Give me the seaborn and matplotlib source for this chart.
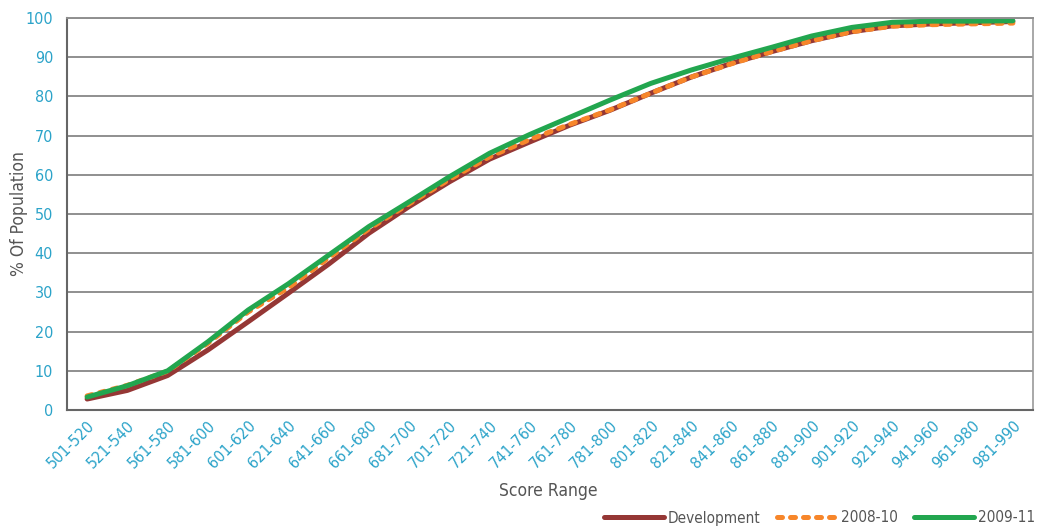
import matplotlib
matplotlib.use("Agg")
import matplotlib.pyplot as plt
import matplotlib.transforms as mtransforms
from matplotlib.lines import Line2D
import numpy as np
import pandas as pd
import seaborn as sns

categories = ["501-520", "521-540", "561-580", "581-600", "601-620", "621-640",
              "641-660", "661-680", "681-700", "701-720", "721-740", "741-760",
              "761-780", "781-800", "801-820", "821-840", "841-860", "861-880",
              "881-900", "901-920", "921-940", "941-960", "961-980", "981-990"]

development = [2.8, 5.0, 8.8, 15.3, 22.5, 29.8, 37.2, 45.1, 51.9, 58.2, 64.0, 68.4,
               72.7, 76.5, 80.8, 84.9, 88.4, 91.4, 94.2, 96.5, 98.0, 98.5, 98.8, 99.1]
s2008_10 = [3.6, 6.3, 9.9, 17.0, 25.0, 31.2, 38.8, 46.2, 52.6, 58.8, 64.6, 69.0,
            72.9, 76.6, 80.8, 84.9, 88.3, 91.4, 94.2, 96.5, 97.9, 98.3, 98.5, 98.7]
s2009_11 = [3.3, 6.2, 10.0, 17.4, 25.5, 32.2, 39.5, 46.8, 53.1, 59.5, 65.5, 70.3,
            74.7, 79.1, 83.3, 86.7, 89.7, 92.5, 95.4, 97.6, 98.9, 99.2, 99.2, 99.3]

series_names = ["Development", "2008-10", "2009-11"]
y_ticks = list(range(0, 101, 10))

colors = {"Development": "#953735", "2008-10": "#F7862A", "2009-11": "#22A64F"}
tick_blue = "#2BA3C9"
text_gray = "#555555"

df = pd.DataFrame({
    "Score Range": categories * 3,
    "pos": list(range(len(categories))) * 3,
    "value": development + s2008_10 + s2009_11,
    "series": [series_names[0]] * len(categories) + [series_names[1]] * len(categories)
              + [series_names[2]] * len(categories),
})

sns.set_style("white")
plt.rcParams["font.family"] = ["DejaVu Sans"]
plt.rcParams["font.stretch"] = "condensed"

W, H = 1047, 527
fig = plt.figure(figsize=(W / 100, H / 100), dpi=100)
ax = fig.add_axes([67 / W, 1 - 410 / H, (1033 - 67) / W, (410 - 18) / H])

for name in series_names:
    sub = df[df["series"] == name]
    sns.lineplot(data=sub, x="pos", y="value", ax=ax, color=colors[name],
                 linewidth=3.6, legend=False, sort=False)

for ln, name in zip(ax.get_lines(), series_names):
    ln.set_solid_capstyle("round")
    ln.set_solid_joinstyle("round")
    ln.set_dash_capstyle("round")
    if name == "2008-10":
        ln.set_dashes((1.0, 1.6))

ax.set_xlim(-0.5, len(categories) - 0.5)
ax.set_ylim(0, 100)
ax.set_yticks(y_ticks)
ax.set_yticklabels([str(t) for t in y_ticks], color=tick_blue, fontsize=11.5,
                   fontstretch="condensed")
ax.yaxis.grid(True, color="#8f8f8f", linewidth=1.4)
ax.set_axisbelow(True)

ax.set_xticks(range(len(categories)))
ax.set_xticklabels(categories, rotation=45, ha="right", rotation_mode="anchor",
                   color=tick_blue, fontsize=11.5, fontstretch="condensed")
offset = mtransforms.ScaledTranslation(13 / 100, -1 / 100, fig.dpi_scale_trans)
for lbl in ax.get_xticklabels():
    lbl.set_transform(lbl.get_transform() + offset)
ax.set_xticks(np.arange(0.5, len(categories) - 0.5, 1), minor=True)
ax.tick_params(axis="x", which="major", length=0, pad=6)
ax.tick_params(axis="x", which="minor", length=8, width=1.5, color="#555555", direction="out")
ax.tick_params(axis="y", length=0, pad=10)

for side in ["left", "bottom"]:
    ax.spines[side].set_color("#666666")
    ax.spines[side].set_linewidth(1.5)
ax.spines["right"].set_color("#9a9a9a")
ax.spines["right"].set_linewidth(1.2)
ax.spines["top"].set_color("#8f8f8f")
ax.spines["top"].set_linewidth(1.4)

ax.set_xlabel("")
ax.set_ylabel("")
fig.text(548 / W, 1 - 491 / H, "Score Range", color=text_gray, fontsize=12.5,
         fontstretch="condensed", ha="center", va="center")
fig.text(19 / W, 1 - 214 / H, "% Of Population", color=text_gray, fontsize=12.5,
         fontstretch="condensed", ha="center", va="center", rotation=90)

handles = [
    Line2D([], [], color=colors["Development"], linewidth=3.6, solid_capstyle="round"),
    Line2D([], [], color=colors["2008-10"], linewidth=3.6, dashes=(1.0, 1.6),
           dash_capstyle="round"),
    Line2D([], [], color=colors["2009-11"], linewidth=3.6, solid_capstyle="round"),
]
leg = fig.legend(handles, series_names, loc="center right",
                 bbox_to_anchor=(1035 / W, 1 - 518 / H), borderaxespad=0, borderpad=0,
                 ncol=3, frameon=False, fontsize=11, handlelength=3.9,
                 columnspacing=1.1, handletextpad=0.25)
for t in leg.get_texts():
    t.set_color(text_gray)
    t.set_fontstretch("condensed")

fig.savefig("out.png", dpi=100)
